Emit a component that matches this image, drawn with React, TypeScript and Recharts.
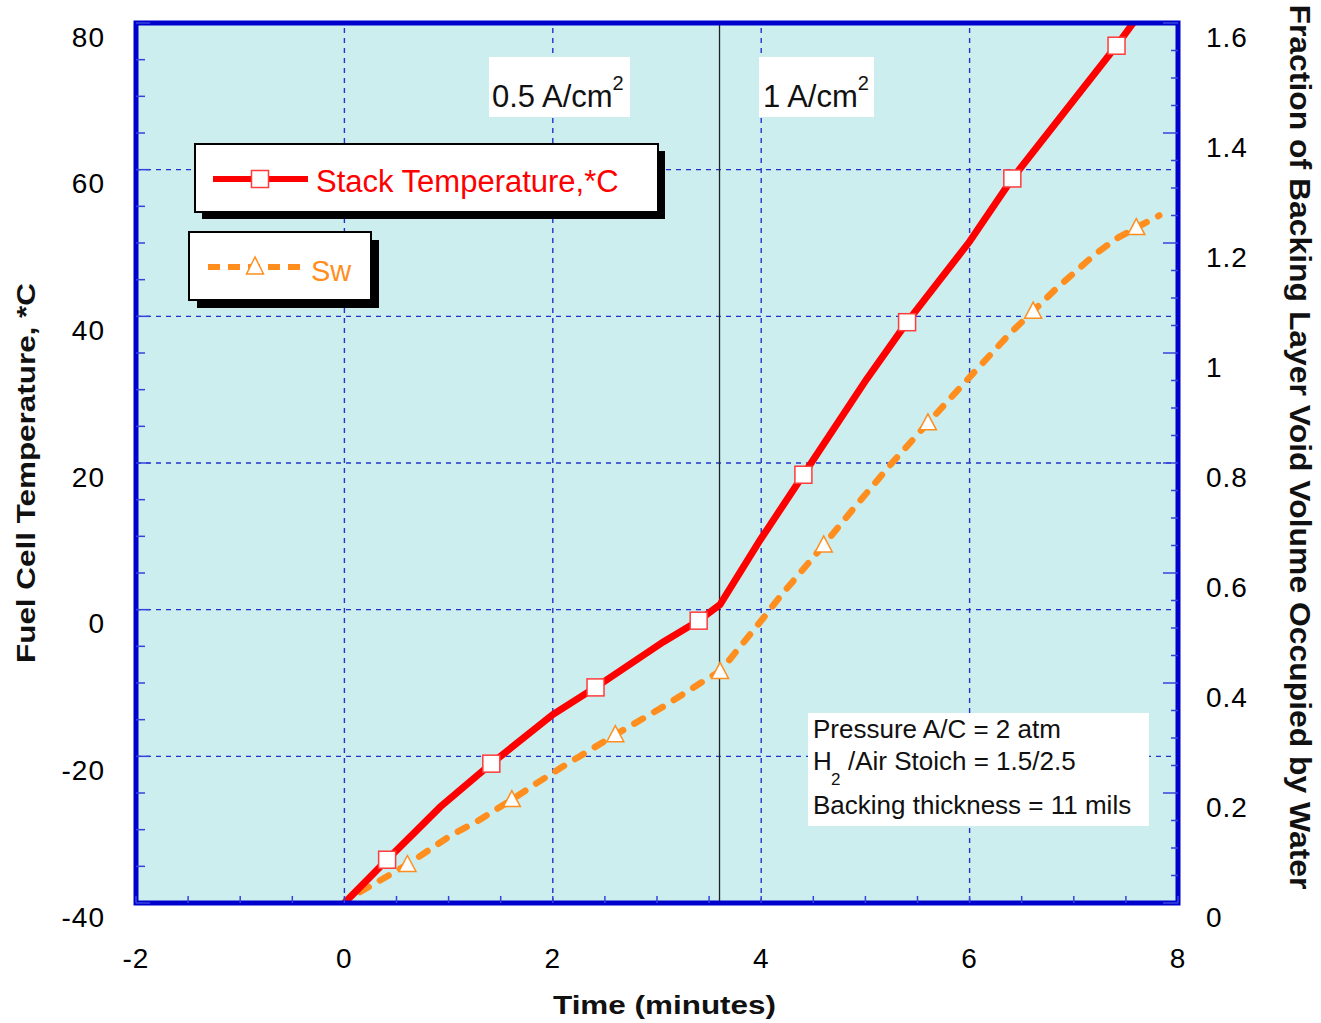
import React from 'react';
import { ComposedChart, Line, XAxis, YAxis, ReferenceLine, ReferenceArea } from 'recharts';

// ---- data ----
const tempTime = [0, 0.41, 0.92, 1.41, 2.0, 2.41, 3.06, 3.4, 3.605, 3.99, 4.405, 5.01, 5.4, 6.0, 6.41, 7.41, 7.57];
const tempValue = [-40, -34.1, -26.9, -21.0, -14.3, -10.6, -4.4, -1.5, 0.7, 9.5, 18.4, 31.4, 39.2, 50.2, 58.8, 76.9, 80];
const tempMarkerTimes = [0.41, 1.41, 2.41, 3.4, 4.405, 5.4, 6.41, 7.41];

const swTime = [0.15, 0.605, 1.03, 1.27, 1.607, 1.846, 2.07, 2.26, 2.6, 3.06, 3.51, 3.605, 4.02, 4.18, 4.6, 4.885, 5.26, 5.6, 6.0, 6.39, 6.61, 6.82, 7.2, 7.41, 7.6, 7.82];
const swValue = [0.02, 0.07, 0.124, 0.148, 0.188, 0.218, 0.245, 0.267, 0.306, 0.357, 0.411, 0.421, 0.518, 0.557, 0.651, 0.717, 0.801, 0.873, 0.956, 1.036, 1.076, 1.115, 1.179, 1.208, 1.228, 1.25];
const swMarkerTimes = [0.605, 1.607, 2.6, 3.605, 4.6, 5.6, 6.61, 7.6];

const xTicks = [-2, -1.5, -1, -0.5, 0, 0.5, 1, 1.5, 2, 2.5, 3, 3.5, 4, 4.5, 5, 5.5, 6, 6.5, 7, 7.5, 8];
const xLabels = [-2, 0, 2, 4, 6, 8];
const leftTicks = [-40, -35, -30, -25, -20, -15, -10, -5, 0, 5, 10, 15, 20, 25, 30, 35, 40, 45, 50, 55, 60, 65, 70, 75, 80];
const leftLabels = [-40, -20, 0, 20, 40, 60, 80];
const rightTicks = [0, 0.05, 0.1, 0.15, 0.2, 0.25, 0.3, 0.35, 0.4, 0.45, 0.5, 0.55, 0.6, 0.65, 0.7, 0.75, 0.8, 0.85, 0.9, 0.95, 1, 1.05, 1.1, 1.15, 1.2, 1.25, 1.3, 1.35, 1.4, 1.45, 1.5, 1.55, 1.6];
const rightLabels = [0, 0.2, 0.4, 0.6, 0.8, 1, 1.2, 1.4, 1.6];
const gridX = [0, 2, 4, 6];
const gridY = [-20, 0, 20, 40, 60];
const stepTime = 3.6;

const tempData = tempTime.map((t, i) => ({ t, v: tempValue[i], m: tempMarkerTimes.includes(t) }));
const swData = swTime.map((t, i) => ({ t, v: swValue[i], m: swMarkerTimes.includes(t) }));

// ---- styles ----
const FONT = '"Liberation Sans", Arial, Helvetica, sans-serif';
const RED = '#FF0000';
const ORANGE = '#FF8E1F';
const BORDER = '#0000CC';
const GRID = '#2233CC';
const TICK = '#3344DD';
const BG = '#CCEEEE';

const near = (arr: number[], v: number) => arr.some((a) => Math.abs(a - v) < 1e-6);

const LeftTick = (props: any) => {
  const { x, y, payload } = props;
  const v = payload.value;
  const major = near(leftLabels, v);
  return (
    <g>
      <line x1={x} x2={x + (major ? 14 : 9)} y1={y} y2={y} stroke={TICK} strokeWidth={1.5} />
      {major && (
        <text x={x - 31} y={y + 14} textAnchor="end" dominantBaseline="central" fontSize={28} fontFamily={FONT} fill="#000" letterSpacing={1}>
          {v}
        </text>
      )}
    </g>
  );
};

const RightTick = (props: any) => {
  const { x, y, payload } = props;
  const v = payload.value;
  const major = near(rightLabels, v);
  return (
    <g>
      <line x1={x} x2={x - (major ? 15 : 7)} y1={y} y2={y} stroke={TICK} strokeWidth={1.5} />
      {major && (
        <text x={x + 28} y={y + 14} textAnchor="start" dominantBaseline="central" fontSize={28} fontFamily={FONT} fill="#000" letterSpacing={1}>
          {Math.round(v * 10) / 10}
        </text>
      )}
    </g>
  );
};

const BottomTick = (props: any) => {
  const { x, y, payload } = props;
  const v = payload.value;
  const major = near(xLabels, v);
  return (
    <g>
      <line x1={x} x2={x} y1={y} y2={y - 7} stroke={TICK} strokeWidth={1.5} />
      {major && (
        <text x={x} y={y + 55} textAnchor="middle" dominantBaseline="central" fontSize={28} fontFamily={FONT} fill="#000" letterSpacing={1}>
          {v}
        </text>
      )}
    </g>
  );
};

const renderSquare = (props: any) => {
  const { cx, cy, payload, index } = props;
  if (!payload || !payload.m || cx == null || cy == null) return <g key={`sq${index}`} />;
  return <rect key={`sq${index}`} x={cx - 8.5} y={cy - 8.5} width={17} height={17} fill="#fff" stroke="#FF3B3B" strokeWidth={1.5} />;
};

const renderTriangle = (props: any) => {
  const { cx, cy, payload, index } = props;
  if (!payload || !payload.m || cx == null || cy == null) return <g key={`tr${index}`} />;
  return (
    <polygon
      key={`tr${index}`}
      points={`${cx},${cy - 9} ${cx - 8.5},${cy + 7} ${cx + 8.5},${cy + 7}`}
      fill="#fff"
      stroke={ORANGE}
      strokeWidth={1.5}
    />
  );
};

const Overlay = () => (
  <svg width={1321} height={1023} style={{ position: 'absolute', left: 0, top: 0, pointerEvents: 'none' }} fontFamily={FONT}>
    {/* current density labels */}
    <rect x={489} y={57} width={141} height={60} fill="#fff" />
    <text x={492} y={107} fontSize={31} fill="#111">
      0.5 A/cm<tspan dy={-17} fontSize={20}>2</tspan>
    </text>
    <rect x={759} y={57} width={115} height={60} fill="#fff" />
    <text x={763} y={107} fontSize={31} fill="#111">
      1 A/cm<tspan dy={-17} fontSize={20}>2</tspan>
    </text>

    {/* legend 1 */}
    <rect x={202} y={151} width={463} height={68} fill="#000" />
    <rect x={195} y={144} width={463} height={68} fill="#fff" stroke="#000" strokeWidth={2} />
    <line x1={213} x2={308} y1={179} y2={179} stroke={RED} strokeWidth={6} />
    <rect x={251.5} y={170.5} width={17} height={17} fill="#fff" stroke="#FF3B3B" strokeWidth={1.5} />
    <text x={316} y={192} fontSize={31} fill={RED}>Stack Temperature,*C</text>

    {/* legend 2 */}
    <rect x={197} y={240} width={182} height={68} fill="#000" />
    <rect x={189} y={232} width={182} height={68} fill="#fff" stroke="#000" strokeWidth={2} />
    <line x1={208} x2={303} y1={267} y2={267} stroke={ORANGE} strokeWidth={6} strokeDasharray="12 8" />
    <polygon points="255,257 246.5,274 263.5,274" fill="#fff" stroke={ORANGE} strokeWidth={1.5} />
    <text x={311} y={281} fontSize={29} fill={ORANGE}>Sw</text>

    {/* conditions box */}
    <rect x={808} y={713} width={341} height={113} fill="#fff" />
    <text x={813} y={738} fontSize={26} fill="#111">Pressure A/C = 2 atm</text>
    <text x={813} y={770} fontSize={26} fill="#111">H</text>
    <text x={831} y={785} fontSize={17} fill="#111">2</text>
    <text x={848} y={770} fontSize={26} fill="#111">/Air Stoich = 1.5/2.5</text>
    <text x={813} y={814} fontSize={26} fill="#111">Backing thickness = 11 mils</text>

    {/* axis titles */}
    <text x={664.5} y={1014} textAnchor="middle" fontSize={26} fontWeight="bold" fill="#111" textLength={223} lengthAdjust="spacingAndGlyphs">
      Time (minutes)
    </text>
    <text transform="translate(35,473) rotate(-90)" textAnchor="middle" fontSize={25} fontWeight="bold" fill="#111" textLength={380} lengthAdjust="spacingAndGlyphs">
      Fuel Cell Temperature, *C
    </text>
    <text transform="translate(1290,447) rotate(90)" textAnchor="middle" fontSize={29} fontWeight="bold" fill="#111" textLength={885} lengthAdjust="spacingAndGlyphs">
      Fraction of Backing Layer Void Volume Occupied by Water
    </text>
  </svg>
);

export default function App() {
  return (
    <div style={{ position: 'absolute', left: 0, top: 0, width: 1321, height: 1023, overflow: 'hidden', background: '#fff' }}>
      <ComposedChart width={1321} height={1023} margin={{ top: 23, right: 43, bottom: 60, left: 36 }}>
        <XAxis
          dataKey="t"
          type="number"
          domain={[-2, 8]}
          ticks={xTicks}
          interval={0}
          axisLine={false}
          tickSize={0}
          tickMargin={0}
          tick={BottomTick}
          height={60}
          allowDataOverflow
        />
        <YAxis
          yAxisId="left"
          orientation="left"
          type="number"
          domain={[-40, 80]}
          ticks={leftTicks}
          interval={0}
          axisLine={false}
          tickSize={0}
          tickMargin={0}
          tick={LeftTick}
          width={100}
          allowDataOverflow
        />
        <YAxis
          yAxisId="right"
          orientation="right"
          type="number"
          domain={[0, 1.6]}
          ticks={rightTicks}
          interval={0}
          axisLine={false}
          tickSize={0}
          tickMargin={0}
          tick={RightTick}
          width={100}
          allowDataOverflow
        />
        <ReferenceArea yAxisId="left" x1={-2} x2={8} y1={-40} y2={80} fill={BG} fillOpacity={1} stroke="none" />
        {gridX.map((g) => (
          <ReferenceLine key={`gx${g}`} yAxisId="left" x={g} stroke={GRID} strokeWidth={1.4} strokeDasharray="5 5" />
        ))}
        {gridY.map((g) => (
          <ReferenceLine key={`gy${g}`} yAxisId="left" y={g} stroke={GRID} strokeWidth={1.4} strokeDasharray="5 5" />
        ))}
        <ReferenceLine yAxisId="left" x={stepTime} stroke="#222" strokeWidth={1.3} />
        <Line
          yAxisId="right"
          data={swData}
          dataKey="v"
          type="linear"
          stroke={ORANGE}
          strokeWidth={6.5}
          strokeDasharray="10 13"
          strokeLinecap="round"
          dot={renderTriangle}
          activeDot={false}
          isAnimationActive={false}
        />
        <Line
          yAxisId="left"
          data={tempData}
          dataKey="v"
          type="linear"
          stroke={RED}
          strokeWidth={7}
          dot={renderSquare}
          activeDot={false}
          isAnimationActive={false}
        />
        <ReferenceArea yAxisId="left" x1={-2} x2={8} y1={-40} y2={80} fill="none" stroke={BORDER} strokeWidth={5} zIndex={1500} />
      </ComposedChart>
      <Overlay />
    </div>
  );
}
